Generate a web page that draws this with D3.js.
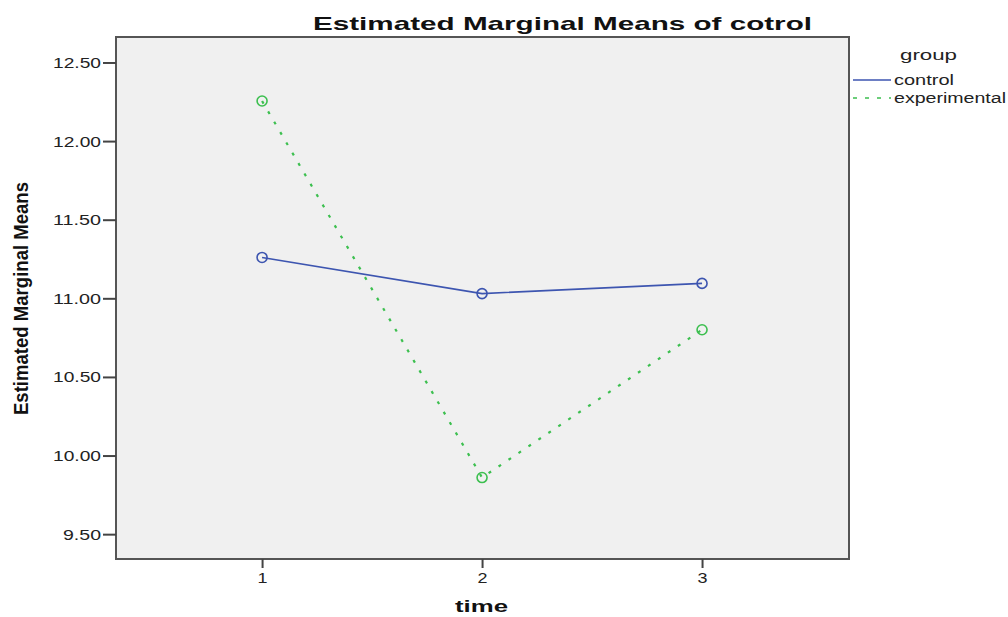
<!DOCTYPE html>
<html><head><meta charset="utf-8">
<script src="https://cdn.jsdelivr.net/npm/d3@7"></script>
<style>body{margin:0;background:#fff}svg{display:block}text{font-family:"Liberation Sans",Arial,sans-serif}</style>
</head><body>
<svg id="c" width="1008" height="617"></svg>
<script>
const times = [1, 2, 3];
const groups = ["control", "experimental"];
const controlMeans = [11.26, 11.03, 11.095];
const experimentalMeans = [12.255, 9.86, 10.80];
const yTicks = [9.5, 10, 10.5, 11, 11.5, 12, 12.5];
const yTickLabels = ["9.50", "10.00", "10.50", "11.00", "11.50", "12.00", "12.50"];
const colors = {control: "#3d55b0", experimental: "#3cbf4f"};

const svg = d3.select("#c");
const L = 116, R = 849, T = 37, B = 559;
const x = d3.scaleLinear().domain([0.336, 3.668]).range([L, R]);
const y = d3.scaleLinear().domain([9.342, 12.662]).range([B, T]);

svg.append("rect").attr("x", L).attr("y", T).attr("width", R - L).attr("height", B - T)
  .attr("fill", "#f0f0f0").attr("stroke", "#555").attr("stroke-width", 2);

// y axis
const yAxis = d3.axisLeft(y).tickValues(yTicks).tickSize(13).tickPadding(2)
  .tickFormat((d, i) => yTickLabels[i]);
const gy = svg.append("g").attr("transform", `translate(${L},0)`).call(yAxis);
gy.select(".domain").remove();
gy.selectAll(".tick line").attr("stroke", "#444").attr("stroke-width", 2);
gy.selectAll(".tick text").style("font-size", "14px").attr("fill", "#222")
  .attr("textLength", function(d, i) { return yTickLabels[i].length === 5 ? 48 : 38; })
  .attr("lengthAdjust", "spacingAndGlyphs").attr("dy", "0.36em");

// x axis
const xAxis = d3.axisBottom(x).tickValues(times).tickSize(9).tickPadding(5).tickFormat(d3.format("d"));
const gx = svg.append("g").attr("transform", `translate(0,${B})`).call(xAxis);
gx.select(".domain").remove();
gx.selectAll(".tick line").attr("stroke", "#444").attr("stroke-width", 2);
gx.selectAll(".tick text").style("font-size", "14px").attr("fill", "#222")
  .attr("textLength", 10).attr("lengthAdjust", "spacingAndGlyphs");

// series
const series = [
  {name: "control", values: controlMeans, dash: null, w: 1.6},
  {name: "experimental", values: experimentalMeans, dash: "3,9", w: 2.2}
];
const line = d3.line().x((d, i) => x(times[i])).y(d => y(d));
series.forEach(s => {
  svg.append("path").datum(s.values).attr("d", line).attr("fill", "none")
    .attr("stroke", colors[s.name]).attr("stroke-width", s.w)
    .attr("stroke-dasharray", s.dash);
  svg.selectAll(null).data(s.values).enter().append("circle")
    .attr("cx", (d, i) => x(times[i])).attr("cy", d => y(d)).attr("r", 5)
    .attr("fill", "none").attr("stroke", colors[s.name]).attr("stroke-width", 1.6);
});

// title
svg.append("text").attr("x", 313).attr("y", 30).attr("font-size", 19).attr("font-weight", "bold")
  .attr("fill", "#111").attr("textLength", 499).attr("lengthAdjust", "spacingAndGlyphs")
  .text("Estimated Marginal Means of cotrol");

// axis titles
svg.append("text").attr("x", 455).attr("y", 612).attr("font-size", 17).attr("font-weight", "bold")
  .attr("fill", "#111").attr("textLength", 53).attr("lengthAdjust", "spacingAndGlyphs").text("time");
svg.append("text").attr("transform", "translate(28,415) rotate(-90)")
  .attr("font-family", "'Liberation Sans Narrow','Liberation Sans',Arial,sans-serif")
  .attr("font-size", 21).attr("font-weight", "bold").attr("fill", "#111")
  .attr("textLength", 233).attr("lengthAdjust", "spacingAndGlyphs").text("Estimated Marginal Means");

// legend
svg.append("text").attr("x", 900).attr("y", 60).attr("font-size", 15).attr("fill", "#222")
  .attr("textLength", 57).attr("lengthAdjust", "spacingAndGlyphs").text("group");
const legendRows = [
  {name: "control", y: 80, w: 60},
  {name: "experimental", y: 98, w: 112}
];
legendRows.forEach(r => {
  svg.append("line").attr("x1", 853).attr("x2", 891).attr("y1", r.y).attr("y2", r.y)
    .attr("stroke", colors[r.name]).attr("stroke-width", 1.5)
    .attr("stroke-dasharray", r.name === "experimental" ? "4,8" : null);
  svg.append("text").attr("x", 894).attr("y", r.y + 5).attr("font-size", 14).attr("fill", "#222")
    .attr("textLength", r.w).attr("lengthAdjust", "spacingAndGlyphs").text(r.name);
});
</script>
</body></html>
